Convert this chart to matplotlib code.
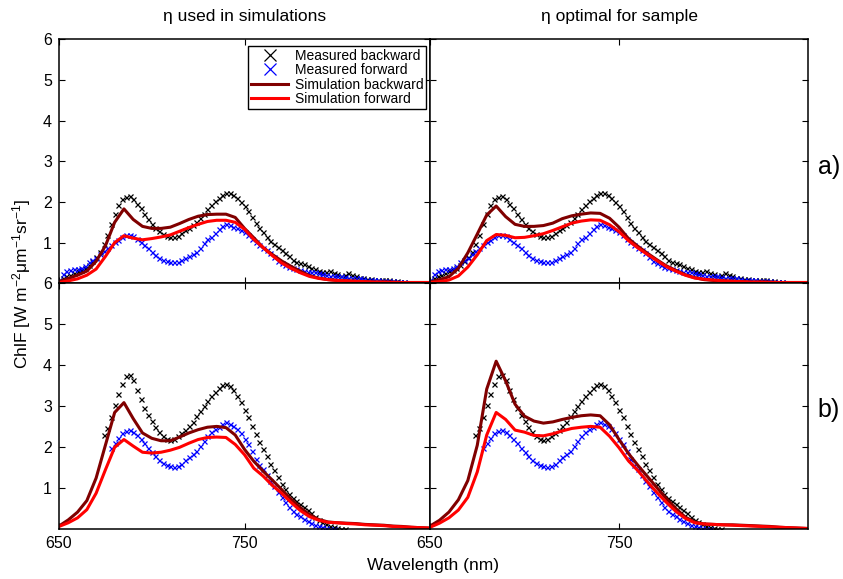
import numpy as np
import matplotlib.pyplot as plt

plt.rcParams['font.family'] = ['Liberation Sans', 'DejaVu Sans']
plt.rcParams['mathtext.fontset'] = 'custom'
plt.rcParams['mathtext.rm'] = 'Liberation Sans'
plt.rcParams['mathtext.it'] = 'Liberation Sans:italic'

# wavelength grids (nm)
wl_sim = np.arange(650, 851, 5)
wl_meas_a = np.arange(650, 837, 2)
wl_meas_b = np.arange(674, 805, 2)

# measured spectra, sample a (top row)
meas_back_a = [0.07, 0.14, 0.19, 0.21, 0.25, 0.30, 0.33, 0.38, 0.46, 0.54,
               0.65, 0.78, 0.96, 1.18, 1.45, 1.70, 1.92, 2.07, 2.13, 2.14,
               2.08, 1.96, 1.84, 1.71, 1.59, 1.47, 1.37, 1.29, 1.21, 1.16,
               1.14, 1.13, 1.17, 1.23, 1.30, 1.37, 1.44, 1.51, 1.61, 1.71,
               1.82, 1.93, 2.02, 2.09, 2.16, 2.21, 2.22, 2.18, 2.11, 2.01,
               1.91, 1.77, 1.62, 1.49, 1.37, 1.26, 1.15, 1.04, 0.97, 0.90,
               0.83, 0.75, 0.66, 0.58, 0.52, 0.49, 0.47, 0.42, 0.38, 0.35,
               0.31, 0.27, 0.28, 0.30, 0.25, 0.22, 0.19, 0.20, 0.25, 0.21,
               0.18, 0.14, 0.12, 0.11, 0.10, 0.09, 0.08, 0.07, 0.07, 0.07,
               0.06, 0.05, 0.04, 0.04]
meas_fwd_a = [0.08, 0.22, 0.30, 0.32, 0.34, 0.34, 0.37, 0.43, 0.52, 0.57,
              0.63, 0.73, 0.79, 0.88, 0.95, 1.01, 1.07, 1.14, 1.19, 1.20,
              1.16, 1.09, 1.01, 0.95, 0.86, 0.78, 0.70, 0.62, 0.58, 0.55,
              0.53, 0.53, 0.53, 0.57, 0.62, 0.66, 0.71, 0.78, 0.86, 0.98,
              1.08, 1.15, 1.24, 1.33, 1.41, 1.47, 1.44, 1.39, 1.35, 1.30,
              1.26, 1.19, 1.10, 1.02, 0.95, 0.88, 0.82, 0.75, 0.64, 0.56,
              0.49, 0.44, 0.40, 0.37, 0.34, 0.32, 0.30, 0.29, 0.29, 0.29,
              0.25, 0.22, 0.20, 0.18, 0.18, 0.18, 0.18, 0.16, 0.14, 0.14,
              0.14, 0.12, 0.10, 0.09, 0.08, 0.07, 0.07, 0.06, 0.06, 0.06,
              0.05, 0.04, 0.04, 0.03]

# measured spectra, sample b (bottom row)
meas_back_b = [2.29, 2.46, 2.73, 3.04, 3.31, 3.55, 3.74, 3.77, 3.63, 3.39,
               3.17, 2.97, 2.78, 2.63, 2.49, 2.38, 2.28, 2.21, 2.19, 2.21,
               2.27, 2.35, 2.43, 2.51, 2.62, 2.77, 2.88, 3.00, 3.14, 3.26,
               3.36, 3.44, 3.51, 3.55, 3.50, 3.39, 3.26, 3.10, 2.92, 2.74,
               2.53, 2.33, 2.14, 1.96, 1.78, 1.60, 1.45, 1.28, 1.11, 0.98,
               0.87, 0.77, 0.68, 0.61, 0.55, 0.47, 0.39, 0.30, 0.22, 0.17,
               0.13, 0.08, 0.05, 0.03, 0.02, 0.01]
meas_fwd_b = [np.nan, np.nan, 1.99, 2.11, 2.23, 2.34, 2.41, 2.43, 2.38, 2.30,
              2.20, 2.10, 1.99, 1.88, 1.79, 1.70, 1.62, 1.58, 1.55, 1.53,
              1.55, 1.60, 1.68, 1.77, 1.83, 1.92, 2.03, 2.16, 2.28, 2.37,
              2.44, 2.50, 2.58, 2.61, 2.57, 2.52, 2.45, 2.34, 2.21, 2.08,
              1.90, 1.72, 1.58, 1.46, 1.32, 1.18, 1.06, 0.90, 0.78, 0.66,
              0.54, 0.44, 0.38, 0.32, 0.26, 0.20, 0.15, 0.11, 0.08, 0.05,
              0.03, 0.02, 0.01, np.nan, np.nan, np.nan]

# simulations: eta used in simulations (left) / eta optimal for sample (right)
sim_back_a_used = [0.04, 0.12, 0.20, 0.30, 0.54, 0.92, 1.50, 1.83, 1.57, 1.40,
                   1.35, 1.35, 1.38, 1.47, 1.57, 1.65, 1.69, 1.70, 1.70, 1.62,
                   1.35, 1.12, 0.88, 0.71, 0.55, 0.42, 0.30, 0.19, 0.13, 0.09,
                   0.07, 0.06, 0.05, 0.04, 0.03, 0.03, 0.03, 0.02, 0.02, 0.02,
                   0.02]
sim_fwd_a_used = [0.02, 0.06, 0.11, 0.20, 0.35, 0.66, 1.00, 1.17, 1.11, 1.07,
                  1.10, 1.14, 1.19, 1.28, 1.37, 1.45, 1.52, 1.55, 1.55, 1.50,
                  1.33, 1.08, 0.88, 0.68, 0.50, 0.37, 0.26, 0.17, 0.12, 0.09,
                  0.07, 0.06, 0.05, 0.04, 0.03, 0.03, 0.02, 0.02, 0.02, 0.02,
                  0.02]
sim_back_a_opt = [0.03, 0.09, 0.16, 0.37, 0.75, 1.21, 1.68, 1.90, 1.64, 1.45,
                  1.40, 1.40, 1.42, 1.48, 1.59, 1.66, 1.70, 1.73, 1.72, 1.60,
                  1.38, 1.10, 0.91, 0.74, 0.58, 0.43, 0.32, 0.21, 0.14, 0.09,
                  0.07, 0.06, 0.05, 0.04, 0.03, 0.03, 0.03, 0.02, 0.02, 0.02,
                  0.02]
sim_fwd_a_opt = [0.02, 0.04, 0.08, 0.18, 0.40, 0.70, 1.05, 1.20, 1.18, 1.12,
                 1.13, 1.17, 1.22, 1.30, 1.39, 1.48, 1.53, 1.56, 1.55, 1.44,
                 1.27, 1.05, 0.87, 0.71, 0.56, 0.41, 0.30, 0.20, 0.13, 0.10,
                 0.08, 0.06, 0.05, 0.04, 0.03, 0.03, 0.02, 0.02, 0.02, 0.02,
                 0.02]
sim_back_b_used = [0.08, 0.23, 0.42, 0.70, 1.25, 2.05, 2.85, 3.09, 2.70, 2.35,
                   2.22, 2.16, 2.16, 2.25, 2.35, 2.43, 2.49, 2.51, 2.48, 2.30,
                   1.95, 1.66, 1.42, 1.20, 0.97, 0.74, 0.53, 0.36, 0.24, 0.18,
                   0.16, 0.15, 0.14, 0.12, 0.11, 0.10, 0.08, 0.07, 0.05, 0.04,
                   0.03]
sim_fwd_b_used = [0.07, 0.16, 0.28, 0.48, 0.88, 1.45, 2.00, 2.19, 2.03, 1.88,
                  1.86, 1.88, 1.93, 2.00, 2.10, 2.19, 2.24, 2.25, 2.24, 2.07,
                  1.82, 1.49, 1.30, 1.07, 0.88, 0.66, 0.46, 0.31, 0.22, 0.17,
                  0.16, 0.14, 0.13, 0.11, 0.10, 0.09, 0.07, 0.06, 0.05, 0.04,
                  0.03]
sim_back_b_opt = [0.08, 0.22, 0.42, 0.72, 1.19, 2.05, 3.42, 4.10, 3.62, 3.05,
                  2.76, 2.64, 2.59, 2.62, 2.68, 2.73, 2.77, 2.79, 2.77, 2.55,
                  2.19, 1.85, 1.56, 1.29, 1.02, 0.75, 0.51, 0.30, 0.18, 0.13,
                  0.12, 0.11, 0.11, 0.10, 0.09, 0.08, 0.07, 0.05, 0.04, 0.03,
                  0.02]
sim_fwd_b_opt = [0.05, 0.15, 0.28, 0.47, 0.78, 1.40, 2.30, 2.85, 2.68, 2.42,
                 2.37, 2.29, 2.28, 2.33, 2.40, 2.46, 2.49, 2.51, 2.49, 2.27,
                 1.99, 1.67, 1.43, 1.16, 0.90, 0.66, 0.44, 0.27, 0.16, 0.13,
                 0.12, 0.11, 0.10, 0.09, 0.08, 0.07, 0.06, 0.05, 0.04, 0.03,
                 0.02]

col_titles = ["\u03b7 used in simulations", "\u03b7 optimal for sample"]
row_labels = ["a)", "b)"]
dark_red = "#800000"

fig = plt.figure(figsize=(8.43, 5.79), dpi=100)

lefts = [0.0700, 0.5101]
widths = [0.4401, 0.4484]
bottoms = [0.5107, 0.0858]
heights = [0.4214, 0.4249]

meas = [(wl_meas_a, meas_back_a, meas_fwd_a), (wl_meas_b, meas_back_b, meas_fwd_b)]
sims = [[(sim_back_a_used, sim_fwd_a_used), (sim_back_a_opt, sim_fwd_a_opt)],
        [(sim_back_b_used, sim_fwd_b_used), (sim_back_b_opt, sim_fwd_b_opt)]]

for r in range(2):
    for c in range(2):
        ax = fig.add_axes([lefts[c], bottoms[r], widths[c], heights[r]])
        wl, mb, mf = meas[r]
        sb, sf = sims[r][c]
        ax.plot(wl, mb, 'x', color='black', ms=3.6, mew=0.9, label="Measured backward")
        ax.plot(wl, mf, 'x', color='blue', ms=3.6, mew=0.9, label="Measured forward")
        ax.plot(wl_sim, sb, '-', color=dark_red, lw=2.2, label="Simulation backward")
        ax.plot(wl_sim, sf, '-', color='red', lw=2.2, label="Simulation forward")
        ax.set_xlim(650, 850)
        ax.set_ylim(0, 6)
        ax.set_xticks([650, 750])
        ax.set_yticks([1, 2, 3, 4, 5, 6])
        ax.tick_params(direction='in', top=True, right=True, length=4, width=0.8,
                       labelsize=11.5, pad=5)
        if c == 1:
            ax.tick_params(labelleft=False)
        if r == 0:
            ax.tick_params(labelbottom=False)
        for s in ax.spines.values():
            s.set_linewidth(1.1)
        if r == 0 and c == 0:
            leg = ax.legend(loc='upper right', bbox_to_anchor=(0.989, 0.972),
                            borderaxespad=0, fontsize=10, markerscale=2.3,
                            fancybox=False, framealpha=1, edgecolor='black',
                            handlelength=2.7, handletextpad=0.45,
                            labelspacing=0.03, borderpad=0.2)
            leg.get_frame().set_linewidth(1.0)

fig.text(0.290, 0.971, col_titles[0], ha='center', va='center', fontsize=12.5)
fig.text(0.735, 0.971, col_titles[1], ha='center', va='center', fontsize=12.5)
fig.text(0.983, 0.712, row_labels[0], ha='center', va='center', fontsize=18)
fig.text(0.983, 0.292, row_labels[1], ha='center', va='center', fontsize=18)
fig.text(0.514, 0.024, "Wavelength (nm)", ha='center', va='center', fontsize=12.5)
fig.text(0.026, 0.510, r"ChlF [W m$^{-2}$μm$^{-1}$sr$^{-1}$]", ha='center',
         va='center', rotation=90, fontsize=12.5)

plt.savefig("out.png", dpi=100)
